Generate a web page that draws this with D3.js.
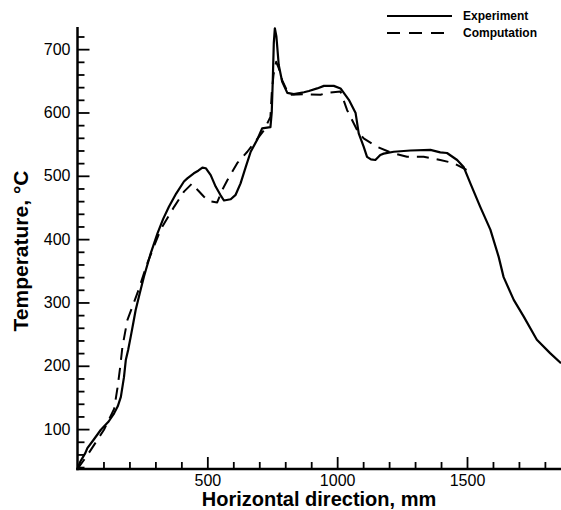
<!DOCTYPE html>
<html>
<head>
<meta charset="utf-8">
<script src="https://cdn.jsdelivr.net/npm/d3@7"></script>
<style>
  html, body { margin: 0; padding: 0; background: #fff; }
  svg { display: block; font-family: "Liberation Sans", Arial, Helvetica, sans-serif; }
</style>
</head>
<body>
<svg id="chart" width="561" height="510"></svg>
<script>
// ---- data ----
const seriesNames = ["Experiment", "Computation"];

const expX = [0, 10, 30, 38, 60, 90, 120, 141, 155, 167, 179, 186, 195, 205, 215, 224, 240, 256, 280, 308, 330, 352, 380, 410, 423, 448, 465, 481, 494, 513, 532, 550, 564, 590, 609, 628, 648, 667, 692, 711, 743, 748, 752, 756, 760, 766, 775, 788, 808, 833, 872, 891, 923, 949, 987, 1013, 1045, 1071, 1083, 1102, 1115, 1130, 1147, 1166, 1179, 1218, 1282, 1359, 1397, 1423, 1462, 1487, 1513, 1551, 1590, 1622, 1641, 1680, 1718, 1769, 1820, 1862];
const expY = [37, 48, 62, 70, 82, 99, 112, 125, 136, 151, 182, 209, 225, 246, 268, 288, 315, 341, 375, 409, 432, 451, 472, 491, 496, 504, 508, 513, 512, 501, 483, 470, 461, 463, 470, 488, 514, 538, 557, 575, 577, 600, 650, 710, 733, 720, 675, 649, 631, 629, 632, 634, 638, 642, 642, 638, 620, 599, 567, 546, 530, 526, 525, 533, 535, 538, 540, 541, 537, 536, 525, 514, 488, 451, 415, 372, 340, 304, 278, 241, 220, 204];

const compX = [0, 40, 102, 141, 154, 165, 173, 192, 231, 269, 320, 372, 410, 442, 462, 487, 506, 538, 558, 577, 615, 654, 718, 743, 748, 755, 765, 775, 788, 814, 872, 936, 962, 1013, 1038, 1077, 1102, 1153, 1205, 1269, 1333, 1397, 1449, 1500];
const compY = [37, 60, 99, 132, 165, 200, 230, 272, 315, 362, 415, 451, 475, 488, 478, 467, 460, 458, 478, 493, 520, 538, 572, 593, 630, 660, 680, 670, 651, 628, 629, 628, 631, 633, 604, 572, 559, 546, 537, 530, 530, 525, 520, 509];

const xMajorTicks = [500, 1000, 1500];
const xMinorTicks = [100, 200, 300, 400, 600, 700, 800, 900, 1100, 1200, 1300, 1400, 1600, 1700, 1800];
const yMajorTicks = [100, 200, 300, 400, 500, 600, 700];
const yMinorTicks = [40, 60, 80, 120, 140, 160, 180, 220, 240, 260, 280, 320, 340, 360, 380, 420, 440, 460, 480, 520, 540, 560, 580, 620, 640, 660, 680, 720];

const xDomain = [0, 1862];
const yDomain = [37, 735];

// ---- layout ----
const svg = d3.select("#chart");
const pLeft = 77.5, pRight = 561, pTop = 27, pBottom = 469;

const x = d3.scaleLinear().domain(xDomain).range([pLeft, pRight]);
const y = d3.scaleLinear().domain(yDomain).range([pBottom, pTop]);

const line = d3.line().x(d => x(d[0])).y(d => y(d[1]));
const expData = expX.map((v, i) => [v, expY[i]]);
const compData = compX.map((v, i) => [v, compY[i]]);

// curves
svg.append("path").datum(compData)
  .attr("d", line).attr("fill", "none").attr("stroke", "#000")
  .attr("stroke-width", 2).attr("stroke-dasharray", "12,8")
  .attr("stroke-linejoin", "round");
svg.append("path").datum(expData)
  .attr("d", line).attr("fill", "none").attr("stroke", "#000")
  .attr("stroke-width", 2.2).attr("stroke-linejoin", "round");

// axes
function styleAxis(g) {
  g.select(".domain").remove();
  g.selectAll(".tick line").attr("stroke", "#000").attr("stroke-width", 1.8);
  g.selectAll(".tick text").attr("fill", "#000").attr("font-size", 16);
}

const gxMinor = svg.append("g").attr("transform", `translate(0,${pBottom})`)
  .call(d3.axisBottom(x).tickValues(xMinorTicks).tickSize(-7).tickFormat(""));
styleAxis(gxMinor);
const gx = svg.append("g").attr("transform", `translate(0,${pBottom})`)
  .call(d3.axisBottom(x).tickValues(xMajorTicks).tickSize(-12).tickPadding(6).tickFormat(d3.format("d")));
styleAxis(gx);

const gyMinor = svg.append("g").attr("transform", `translate(${pLeft},0)`)
  .call(d3.axisLeft(y).tickValues(yMinorTicks).tickSize(-7).tickFormat(""));
styleAxis(gyMinor);
const gy = svg.append("g").attr("transform", `translate(${pLeft},0)`)
  .call(d3.axisLeft(y).tickValues(yMajorTicks).tickSize(-12).tickPadding(7).tickFormat(d3.format("d")));
styleAxis(gy);

// axis lines
svg.append("line").attr("x1", pLeft).attr("x2", pLeft).attr("y1", pTop).attr("y2", pBottom + 1.25)
  .attr("stroke", "#000").attr("stroke-width", 2.5);
svg.append("line").attr("x1", pLeft - 1.25).attr("x2", pRight).attr("y1", pBottom).attr("y2", pBottom)
  .attr("stroke", "#000").attr("stroke-width", 2.5);

// titles
svg.append("text").attr("x", 319).attr("y", 506).attr("text-anchor", "middle")
  .attr("font-size", 20).attr("font-weight", "bold").text("Horizontal direction, mm");
svg.append("text").attr("transform", "translate(28,251) rotate(-90)").attr("text-anchor", "middle")
  .attr("font-size", 21).attr("font-weight", "bold").text("Temperature, °C");

// legend
const legendItems = [
  { name: seriesNames[0], dash: null, y: 16 },
  { name: seriesNames[1], dash: "13,9", y: 33 }
];
legendItems.forEach(it => {
  const l = svg.append("line").attr("x1", 387).attr("x2", 452).attr("y1", it.y).attr("y2", it.y)
    .attr("stroke", "#000").attr("stroke-width", 2);
  if (it.dash) l.attr("stroke-dasharray", it.dash);
  svg.append("text").attr("x", 463).attr("y", it.y + 4.3)
    .attr("font-size", 12).attr("font-weight", "bold").text(it.name);
});
</script>
</body>
</html>
